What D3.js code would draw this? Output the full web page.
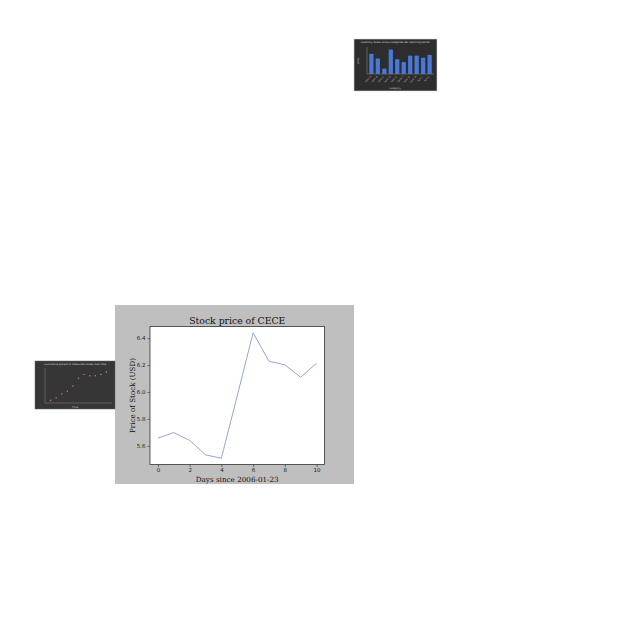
<!DOCTYPE html>
<html><head><meta charset="utf-8">
<script src="https://cdn.jsdelivr.net/npm/d3@7"></script>
<style>html,body{margin:0;padding:0;background:#fff;}svg{display:block;}</style>
</head><body>
<script>
// Main chart data
const days = [0,1,2,3,4,5,6,7,8,9,10];
const prices = [5.657,5.699,5.640,5.533,5.508,5.972,6.440,6.229,6.202,6.110,6.214];
const xTicks = [0,2,4,6,8,10];
const yTicks = [5.6,5.8,6.0,6.2,6.4];
const mainTitle = "Stock price of CECE";
const xLabel = "Days since 2006-01-23";
const yLabel = "Price of Stock (USD)";

// Thumbnail 1 (bar chart) data
const barCats = ["A","B","C","D","E","F","G","H","I","J"];
const barVals = [56,43,15,68,41,33,51,51,45,53];
// Thumbnail 2 (scatter) data
const dotX = [1,2,3,4,5,6,7,8,9,10,11];
const dotY = [2,4,7,9,13,19,22,21,21,22,24];

const svg = d3.select("body").append("svg").attr("width",640).attr("height",640);

function fitText(sel, target){
  const w = sel.node().getComputedTextLength();
  const fs = parseFloat(sel.attr("font-size"));
  sel.attr("font-size", (fs*target/w).toFixed(2));
}

// ---------- Main chart ----------
const panel = {x:115,y:305,w:239,h:179};
svg.append("rect").attr("x",panel.x).attr("y",panel.y).attr("width",panel.w).attr("height",panel.h).attr("fill","#bfbfbf");
const L=150,R=324.5,T=326.5,B=464.5;
const x = d3.scaleLinear().domain([-0.5,10.5]).range([L,R]);
const yMin=d3.min(prices), yMax=d3.max(prices), pad=(yMax-yMin)*0.05;
const y = d3.scaleLinear().domain([yMin-pad,yMax+pad]).range([B,T]);
svg.append("rect").attr("x",L).attr("y",T).attr("width",R-L).attr("height",B-T).attr("fill","#fff").attr("stroke","#333").attr("stroke-width",0.8);

const xa = svg.append("g").attr("transform",`translate(0,${B})`)
  .call(d3.axisBottom(x).tickValues(xTicks).tickSize(2.5).tickPadding(1.5).tickFormat(d3.format("d")));
const ya = svg.append("g").attr("transform",`translate(${L},0)`)
  .call(d3.axisLeft(y).tickValues(yTicks).tickSize(2.5).tickPadding(2).tickFormat(d3.format(".1f")));
[xa,ya].forEach(a=>{
  a.select(".domain").remove();
  a.selectAll("line").attr("stroke","#333").attr("stroke-width",0.6);
  a.selectAll("text").attr("font-family","DejaVu Sans").attr("font-size",5.5).attr("fill","#222");
});

svg.append("path").datum(days.map((d,i)=>[d,prices[i]]))
  .attr("d",d3.line().x(d=>x(d[0])).y(d=>y(d[1])))
  .attr("fill","none").attr("stroke","#8c9bc9").attr("stroke-width",0.9);

const tt = svg.append("text").attr("x",(L+R)/2).attr("y",323.5).attr("text-anchor","middle")
  .attr("font-family","DejaVu Serif").attr("font-size",10).attr("fill","#111").text(mainTitle);
fitText(tt,96);
const xl = svg.append("text").attr("x",(L+R)/2).attr("y",481.5).attr("text-anchor","middle")
  .attr("font-family","DejaVu Serif").attr("font-size",8).attr("fill","#111").text(xLabel);
fitText(xl,83);
const yl = svg.append("text").attr("transform",`translate(134.5,395.5) rotate(-90)`).attr("text-anchor","middle")
  .attr("font-family","DejaVu Serif").attr("font-size",8).attr("fill","#111").text(yLabel);
fitText(yl,75);

// ---------- Thumbnail 1: bar chart ----------
const t1 = {x:354,y:39,w:83,h:52};
svg.append("rect").attr("x",t1.x).attr("y",t1.y).attr("width",t1.w).attr("height",t1.h).attr("fill","#2d2d2d").attr("stroke","#d8d8d8").attr("stroke-width",0.6);
const b1 = d3.scaleBand().domain(barCats).range([367,434]).padding(0.35);
const by = d3.scaleLinear().domain([0,75]).range([74,47]);
svg.append("line").attr("x1",367).attr("x2",367).attr("y1",47).attr("y2",74).attr("stroke","#aaa").attr("stroke-width",0.4);
svg.append("line").attr("x1",367).attr("x2",434).attr("y1",74).attr("y2",74).attr("stroke","#aaa").attr("stroke-width",0.4);
svg.selectAll(".bar").data(barVals).enter().append("rect")
  .attr("x",(d,i)=>b1(barCats[i])).attr("width",b1.bandwidth())
  .attr("y",d=>by(d)).attr("height",d=>74-by(d)).attr("fill","#4a78d8");
svg.selectAll(".bl").data(barCats).enter().append("text")
  .attr("transform",d=>`translate(${b1(d)+b1.bandwidth()/2},77) rotate(-45)`)
  .attr("text-anchor","end").attr("font-size",2.5).attr("fill","#bbb").attr("font-family","DejaVu Sans").text(d=>"Item "+d);
svg.append("text").attr("x",395).attr("y",43).attr("text-anchor","middle").attr("font-size",2.5).attr("fill","#ddd").attr("font-family","DejaVu Sans").text("Inventory levels across categories per reporting period");
svg.append("text").attr("x",395).attr("y",89).attr("text-anchor","middle").attr("font-size",2.5).attr("fill","#ccc").attr("font-family","DejaVu Sans").text("Category");
svg.append("text").attr("transform","translate(359,61) rotate(-90)").attr("text-anchor","middle").attr("font-size",2.5).attr("fill","#ccc").attr("font-family","DejaVu Sans").text("Units");

// ---------- Thumbnail 2: scatter ----------
const t2 = {x:35,y:361,w:80,h:48};
svg.append("rect").attr("x",t2.x).attr("y",t2.y).attr("width",t2.w).attr("height",t2.h).attr("fill","#363636").attr("stroke","#666").attr("stroke-width",0.5);
const sx = d3.scaleLinear().domain([0,12]).range([45,112]);
const sy = d3.scaleLinear().domain([0,27]).range([403,368]);
svg.append("line").attr("x1",45).attr("x2",45).attr("y1",368).attr("y2",403).attr("stroke","#888").attr("stroke-width",0.5);
svg.append("line").attr("x1",45).attr("x2",112).attr("y1",403).attr("y2",403).attr("stroke","#888").attr("stroke-width",0.5);
svg.selectAll(".dot").data(dotY).enter().append("circle")
  .attr("cx",(d,i)=>sx(dotX[i])).attr("cy",d=>sy(d)).attr("r",0.8).attr("fill","#b87a55");
svg.append("text").attr("x",75).attr("y",364.5).attr("text-anchor","middle").attr("font-size",2.5).attr("fill","#ddd").attr("font-family","DejaVu Sans").text("Cumulative growth of measured values over time");
svg.append("text").attr("x",75).attr("y",407.5).attr("text-anchor","middle").attr("font-size",2.5).attr("fill","#ccc").attr("font-family","DejaVu Sans").text("Time");
</script>
</body></html>
